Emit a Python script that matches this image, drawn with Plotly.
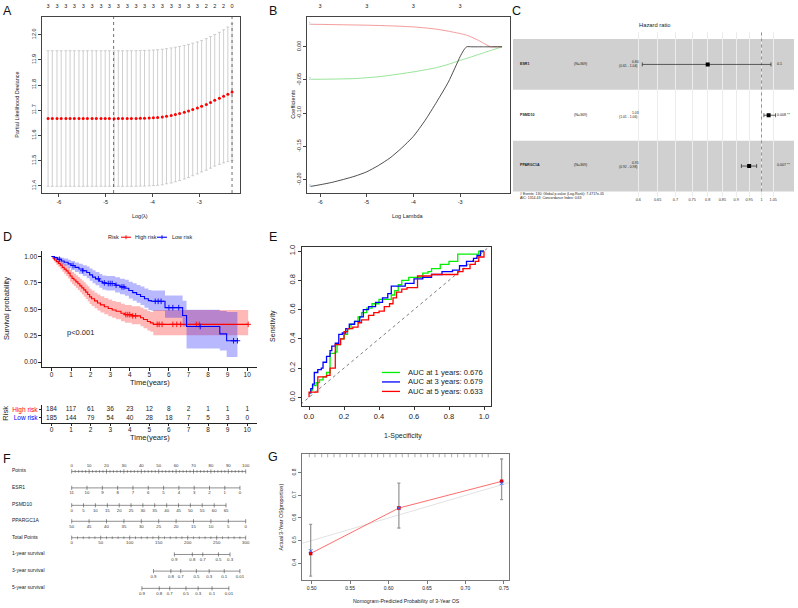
import plotly.graph_objects as go

# ======================= DATA =======================
# ---- A: cross-validation curve ----
cv_loglambda = [-6.23, -6.14, -6.04, -5.95, -5.85, -5.76, -5.67, -5.57, -5.48, -5.39,
                -5.29, -5.20, -5.10, -5.01, -4.92, -4.82, -4.73, -4.64, -4.54, -4.45,
                -4.35, -4.26, -4.17, -4.07, -3.98, -3.89, -3.79, -3.70, -3.60, -3.51,
                -3.42, -3.32, -3.23, -3.14, -3.04, -2.95, -2.85, -2.76, -2.67, -2.57,
                -2.48, -2.39, -2.30]
cv_mean = [11.667, 11.667, 11.667, 11.667, 11.667, 11.667, 11.667, 11.667, 11.667, 11.667,
           11.667, 11.667, 11.667, 11.667, 11.667, 11.666, 11.667, 11.667, 11.667, 11.667,
           11.667, 11.668, 11.668, 11.669, 11.670, 11.671, 11.673, 11.676, 11.679, 11.683,
           11.687, 11.692, 11.697, 11.703, 11.709, 11.716, 11.723, 11.731, 11.739, 11.747,
           11.755, 11.763, 11.772]
cv_upper = [11.936, 11.936, 11.936, 11.936, 11.936, 11.936, 11.936, 11.936, 11.936, 11.936,
            11.936, 11.936, 11.936, 11.936, 11.936, 11.936, 11.936, 11.936, 11.936, 11.936,
            11.936, 11.937, 11.937, 11.938, 11.939, 11.940, 11.942, 11.944, 11.947, 11.950,
            11.953, 11.957, 11.961, 11.966, 11.971, 11.977, 11.984, 11.992, 12.000, 12.009,
            12.019, 12.030, 12.043]
cv_lower = [11.398, 11.398, 11.398, 11.398, 11.398, 11.398, 11.398, 11.398, 11.398, 11.398,
            11.398, 11.398, 11.398, 11.398, 11.398, 11.398, 11.398, 11.398, 11.398, 11.398,
            11.398, 11.399, 11.399, 11.400, 11.401, 11.402, 11.404, 11.408, 11.411, 11.416,
            11.421, 11.427, 11.433, 11.440, 11.447, 11.455, 11.462, 11.470, 11.478, 11.485,
            11.491, 11.496, 11.501]
cv_nonzero_labels = [3, 3, 3, 3, 3, 3, 3, 3, 3, 3, 3, 3, 3, 3, 3, 3, 3, 3, 2, 2, 2, 0]
lambda_min_log = -4.83
lambda_1se_log = -2.30

# ---- B: coefficient paths ----
path_loglambda = [-6.2, -6.0, -5.75, -5.5, -5.25, -5.0, -4.75, -4.5, -4.25, -4.0, -3.75, -3.5,
                  -3.25, -3.0, -2.93, -2.86, -2.75, -2.6, -2.5, -2.4, -2.35, -2.25, -2.1]
coef_pink = [0.0340, 0.0338, 0.0335, 0.0332, 0.0329, 0.0326, 0.0321, 0.0316, 0.0309, 0.0300,
             0.0285, 0.0265, 0.0235, 0.0200, 0.0188, 0.0175, 0.0145, 0.0095, 0.0055, 0.0018,
             0.0, 0.0, 0.0]
coef_green = [-0.0490, -0.0489, -0.0487, -0.0484, -0.0479, -0.0466, -0.0452, -0.0430, -0.0405,
              -0.0378, -0.0348, -0.0313, -0.0265, -0.0205, -0.0190, -0.0175, -0.0150, -0.0115,
              -0.0092, -0.0068, -0.0057, -0.0035, 0.0]
coef_black = [-0.2105, -0.2080, -0.2045, -0.2000, -0.1950, -0.1885, -0.1790, -0.1675, -0.1525,
              -0.1350, -0.1110, -0.0830, -0.0530, -0.0150, -0.0060, 0.0, 0.0, 0.0, 0.0, 0.0,
              0.0, 0.0, 0.0]
path_df_ticks = [-6, -5, -4, -3]
path_df_labels = [3, 3, 3, 3]

# ---- C: forest plot ----
forest_genes = ["ESR1", "PSMD10", "PPARGC1A"]
forest_n = [369, 369, 369]
forest_hr = [0.80, 1.03, 0.95]
forest_lo = [0.61, 1.01, 0.92]
forest_hi = [1.04, 1.06, 0.98]
forest_p = ["0.1", "0.008 **", "0.007 **"]
forest_ticks = [0.6, 0.65, 0.7, 0.75, 0.8, 0.85, 0.9, 0.95, 1.0, 1.05]
forest_ticktext = ["0.6", "0.65", "0.7", "0.75", "0.8", "0.85", "0.9", "0.95", "1", "1.05"]
forest_footer = ["# Events: 130; Global p-value (Log-Rank): 7.4717e-05",
                 "AIC: 1314.43; Concordance Index: 0.63"]

# ---- D: Kaplan-Meier ----
hr_t = [0.00, 0.08, 0.15, 0.25, 0.35, 0.45, 0.55, 0.65, 0.75, 0.85, 0.95, 1.05, 1.15, 1.25,
        1.35, 1.45, 1.55, 1.65, 1.75, 1.85, 1.95, 2.05, 2.20, 2.35, 2.50, 2.70, 2.90, 3.10,
        3.30, 3.55, 3.75, 4.10, 4.55, 4.70, 4.90, 5.05, 5.20, 10.05]
hr_s = [1.000, 0.984, 0.967, 0.951, 0.935, 0.918, 0.897, 0.880, 0.864, 0.842, 0.815, 0.793,
        0.777, 0.760, 0.742, 0.722, 0.703, 0.684, 0.663, 0.640, 0.618, 0.600, 0.580, 0.560,
        0.542, 0.525, 0.508, 0.494, 0.482, 0.463, 0.450, 0.438, 0.420, 0.404, 0.385, 0.372,
        0.358, 0.358]
hr_lo = [1.000, 0.966, 0.942, 0.920, 0.900, 0.879, 0.855, 0.835, 0.816, 0.792, 0.762, 0.738,
         0.720, 0.702, 0.682, 0.661, 0.641, 0.620, 0.598, 0.574, 0.551, 0.532, 0.511, 0.490,
         0.471, 0.453, 0.435, 0.420, 0.407, 0.387, 0.373, 0.360, 0.340, 0.322, 0.301, 0.287,
         0.256, 0.256]
hr_hi = [1.000, 1.000, 0.993, 0.982, 0.971, 0.959, 0.943, 0.929, 0.915, 0.896, 0.872, 0.852,
         0.838, 0.823, 0.807, 0.789, 0.772, 0.755, 0.736, 0.715, 0.694, 0.677, 0.658, 0.640,
         0.623, 0.608, 0.592, 0.580, 0.570, 0.552, 0.541, 0.530, 0.514, 0.500, 0.484, 0.474,
         0.494, 0.494]
hr_censor = [3.8, 3.9, 4.0, 4.15, 4.3, 5.4, 5.5, 5.65, 6.2, 6.4, 6.6, 7.4, 7.55, 10.05]

lr_t = [0.00, 0.15, 0.30, 0.50, 0.65, 0.85, 1.00, 1.20, 1.40, 1.60, 1.80, 1.95, 2.10, 2.25,
        2.45, 2.60, 2.80, 3.25, 3.50, 3.75, 3.95, 4.15, 4.35, 4.55, 4.75, 4.95, 5.10, 5.80,
        6.70, 6.90, 8.60, 8.95, 9.50]
lr_s = [1.000, 0.989, 0.973, 0.957, 0.946, 0.930, 0.914, 0.897, 0.881, 0.865, 0.848, 0.826,
        0.805, 0.788, 0.766, 0.750, 0.744, 0.728, 0.712, 0.700, 0.678, 0.658, 0.641, 0.622,
        0.600, 0.582, 0.576, 0.516, 0.442, 0.337, 0.268, 0.203, 0.203]
lr_lo = [1.000, 0.974, 0.950, 0.927, 0.913, 0.892, 0.873, 0.853, 0.834, 0.815, 0.795, 0.770,
         0.746, 0.727, 0.703, 0.685, 0.678, 0.660, 0.642, 0.628, 0.603, 0.581, 0.562, 0.540,
         0.514, 0.494, 0.487, 0.420, 0.337, 0.130, 0.110, 0.050, 0.050]
lr_hi = [1.000, 1.000, 0.996, 0.988, 0.980, 0.969, 0.957, 0.943, 0.930, 0.918, 0.904, 0.886,
         0.869, 0.854, 0.835, 0.821, 0.816, 0.803, 0.790, 0.780, 0.762, 0.746, 0.731, 0.715,
         0.698, 0.684, 0.679, 0.631, 0.581, 0.495, 0.485, 0.475, 0.475]
lr_censor = [0.4, 1.1, 1.6, 2.4, 2.7, 2.9, 3.0, 3.1, 3.3, 3.6, 3.7, 5.3, 5.45, 5.6, 6.0, 6.2,
             6.5, 7.6, 9.3, 9.5]

risk_times = [0, 1, 2, 3, 4, 5, 6, 7, 8, 9, 10]
risk_high = [184, 117, 61, 36, 23, 12, 8, 2, 1, 1, 1]
risk_low = [185, 144, 79, 54, 40, 28, 18, 7, 5, 3, 0]

# ---- E: time-dependent ROC ----
roc1_fpr = [0.00, 0.01, 0.02, 0.04, 0.06, 0.08, 0.10, 0.11, 0.12, 0.14, 0.15, 0.16, 0.18,
            0.20, 0.22, 0.24, 0.26, 0.28, 0.30, 0.33, 0.36, 0.40, 0.44, 0.47, 0.49, 0.51,
            0.53, 0.57, 0.62, 0.65, 0.68, 0.70, 0.75, 0.80, 0.84, 0.85, 0.95, 0.97, 1.00]
roc1_tpr = [0.03, 0.05, 0.08, 0.10, 0.12, 0.14, 0.17, 0.17, 0.30, 0.30, 0.31, 0.36, 0.40,
            0.43, 0.47, 0.50, 0.52, 0.55, 0.58, 0.61, 0.64, 0.67, 0.67, 0.70, 0.73, 0.77,
            0.80, 0.82, 0.82, 0.85, 0.86, 0.88, 0.91, 0.93, 0.93, 0.98, 0.98, 1.00, 1.00]
roc3_fpr = [0.00, 0.01, 0.02, 0.03, 0.05, 0.07, 0.08, 0.10, 0.12, 0.13, 0.15, 0.17, 0.19,
            0.21, 0.23, 0.26, 0.29, 0.31, 0.34, 0.38, 0.42, 0.45, 0.47, 0.50, 0.55, 0.60,
            0.65, 0.70, 0.76, 0.82, 0.86, 0.90, 0.94, 0.96, 0.98, 1.00]
roc3_tpr = [0.03, 0.06, 0.09, 0.17, 0.19, 0.20, 0.24, 0.28, 0.32, 0.35, 0.37, 0.43, 0.44,
            0.47, 0.50, 0.52, 0.55, 0.60, 0.62, 0.65, 0.68, 0.71, 0.76, 0.76, 0.78, 0.81,
            0.82, 0.84, 0.86, 0.87, 0.90, 0.93, 0.95, 0.97, 1.00, 1.00]
roc5_fpr = [0.00, 0.00, 0.04, 0.05, 0.10, 0.12, 0.15, 0.15, 0.17, 0.18, 0.20, 0.22, 0.25,
            0.28, 0.30, 0.34, 0.37, 0.40, 0.43, 0.46, 0.48, 0.50, 0.53, 0.56, 0.62, 0.62,
            0.70, 0.80, 0.85, 0.88, 0.92, 0.95, 0.97, 1.00]
roc5_tpr = [0.00, 0.035, 0.035, 0.14, 0.15, 0.20, 0.20, 0.36, 0.36, 0.40, 0.45, 0.47, 0.48,
            0.51, 0.53, 0.56, 0.58, 0.59, 0.62, 0.64, 0.68, 0.72, 0.74, 0.75, 0.75, 0.83,
            0.84, 0.84, 0.86, 0.88, 0.91, 0.93, 0.96, 1.00]
roc_years = [1, 3, 5]
roc_auc = [0.676, 0.679, 0.633]

# ---- F: nomogram ----
nomo_points_ticks = [0, 10, 20, 30, 40, 50, 60, 70, 80, 90, 100]
esr1_vals = [11, 10, 9, 8, 7, 6, 5, 4, 3, 2, 1, 0]
esr1_pts = [0, 8.8, 17.6, 26.4, 35.2, 44.0, 52.8, 61.6, 70.4, 79.2, 88.0, 96.7]
psmd10_vals = [0, 5, 10, 15, 20, 25, 30, 35, 40, 45, 50, 55, 60, 65]
psmd10_pts = [0, 6.8, 13.6, 20.5, 27.3, 34.1, 40.9, 47.7, 54.6, 61.4, 68.2, 75.0, 81.9, 88.7]
ppargc1a_vals = [50, 45, 40, 35, 30, 25, 20, 15, 10, 5, 0]
ppargc1a_pts = [0, 10, 20, 30, 40, 50, 60, 70, 80, 90, 100]
total_points_ticks = [0, 50, 100, 150, 200, 250, 300]
surv1_probs = ["0.9", "0.8", "0.7", "0.5", "0.3"]
surv1_total = [177, 208, 226, 253, 273]
surv3_probs = ["0.9", "0.8", "0.7", "0.5", "0.3", "0.1", "0.01"]
surv3_total = [141, 171, 188, 215, 237, 263, 290]
surv5_probs = ["0.9", "0.8", "0.7", "0.5", "0.3", "0.1", "0.01"]
surv5_total = [121, 151, 169, 197, 218, 242, 271]

# ---- G: calibration ----
cal_pred = [0.4987, 0.6134, 0.747]
cal_obs = [0.443, 0.644, 0.762]
cal_obs_corr = [0.454, 0.644, 0.754]
cal_lo = [0.343, 0.5555, 0.681]
cal_hi = [0.572, 0.754, 0.861]
cal_rug = [0.4969, 0.5043, 0.5130, 0.5208, 0.5290, 0.5368, 0.5455, 0.5528, 0.5615, 0.5693,
           0.5780, 0.5858, 0.5936, 0.6018, 0.6096, 0.6178, 0.6256, 0.6343, 0.6421, 0.6508,
           0.6581, 0.6659, 0.6733, 0.6820, 0.6898, 0.6980, 0.7058, 0.7137, 0.7218, 0.7296]

# ======================= LAYOUT HELPERS =======================
W, H = 798, 608
FONT = "Liberation Sans, Arial, sans-serif"


def xd(a, b):
    return [a / W, b / W]


def yd(top, bottom):
    return [1 - bottom / H, 1 - top / H]


def PX(x):
    return x / W


def PY(y):
    return 1 - y / H


fig = go.Figure()
ann = []
shapes = []


def text(x, y, s, size, color="#222", xanchor="center", angle=0, yanchor="middle", bold=False):
    if bold:
        s = "<b>" + s + "</b>"
    ann.append(dict(x=PX(x), y=PY(y), xref="paper", yref="paper", text=s, showarrow=False,
                    xanchor=xanchor, yanchor=yanchor, textangle=angle,
                    font=dict(size=size, color=color, family=FONT)))


def box_axis(dom, rng, tickvals, ticktext, size, angle=0, color="#444", mirror=True):
    return dict(domain=dom, range=rng, tickvals=tickvals, ticktext=ticktext, tickangle=angle,
                showline=True, mirror=mirror, linecolor=color, linewidth=0.8,
                ticks="outside", ticklen=3, tickwidth=0.6, tickcolor=color,
                showgrid=False, zeroline=False,
                tickfont=dict(size=size, color="#222", family=FONT))


def top_label_axis(dom, rng, overlay, anchor, vals, labels, size=5.5):
    return dict(domain=dom, range=rng, overlaying=overlay, anchor=anchor, side="top",
                tickvals=vals, ticktext=[str(v) for v in labels], ticks="", showline=False,
                showgrid=False, zeroline=False, ticklabelstandoff=7,
                tickfont=dict(size=size, color="#222", family=FONT))


# ======================= PANEL A =======================
err_up = [u - m for u, m in zip(cv_upper, cv_mean)]
err_dn = [m - l for m, l in zip(cv_mean, cv_lower)]
fig.add_trace(go.Scatter(x=cv_loglambda, y=cv_mean, mode="markers", xaxis="x", yaxis="y",
                         marker=dict(color="red", size=3),
                         error_y=dict(type="data", symmetric=False, array=err_up,
                                      arrayminus=err_dn, color="#c4c4c4", thickness=0.8, width=1.5)))
for v in (lambda_min_log, lambda_1se_log):
    fig.add_trace(go.Scatter(x=[v, v], y=[11.3, 12.1], mode="lines", xaxis="x", yaxis="y",
                             line=dict(color="#333", width=0.7, dash="dot")))
# top axis (number of non-zero coefficients)
fig.add_trace(go.Scatter(x=cv_loglambda[::2], y=cv_mean[::2], mode="markers", xaxis="x9",
                         yaxis="y", marker=dict(opacity=0), hoverinfo="skip"))
xa_A = box_axis(xd(42, 240), [-6.36, -2.13], [-6, -5, -4, -3], ["-6", "-5", "-4", "-3"], 5.5)
ya_A = box_axis(yd(15, 192), [11.37, 12.07], [11.4, 11.5, 11.6, 11.7, 11.8, 11.9, 12.0],
                ["11.4", "11.5", "11.6", "11.7", "11.8", "11.9", "12.0"], 5.5, angle=-90)
ya_A["anchor"] = "x"
xa_A["anchor"] = "y"
xa_A9 = top_label_axis(xd(42, 240), [-6.36, -2.13], "x", "y", cv_loglambda[::2], cv_nonzero_labels)
text(140, 215, "Log(λ)", 5.5)
text(17, 103, "Partial Likelihood Deviance", 5.5, angle=-90)

# ======================= PANEL B =======================
for ys, col in ((coef_pink, "#f08080"), (coef_green, "#7ddc7d"), (coef_black, "#222222")):
    fig.add_trace(go.Scatter(x=path_loglambda, y=ys, mode="lines", xaxis="x2", yaxis="y2",
                             line=dict(color=col, width=0.8, shape="spline", smoothing=0.6)))
fig.add_trace(go.Scatter(x=[path_loglambda[0]] * 3, y=[coef_pink[0], coef_green[0], coef_black[0]],
                         text=["1", "2", "3"], mode="text", textposition="middle left",
                         cliponaxis=False, xaxis="x2", yaxis="y2",
                         textfont=dict(size=3, color="#888", family=FONT)))
fig.add_trace(go.Scatter(x=path_df_ticks, y=[0, 0, 0, 0], mode="markers", xaxis="x10",
                         yaxis="y2", marker=dict(opacity=0), hoverinfo="skip"))
xa_B = box_axis(xd(307, 510), [-6.28, -1.93], [-6, -5, -4, -3], ["-6", "-5", "-4", "-3"], 5.5)
ya_B = box_axis(yd(15, 192), [-0.221, 0.045], [-0.20, -0.15, -0.10, -0.05, 0.00],
                ["-0.20", "-0.15", "-0.10", "-0.05", "0.00"], 5.5, angle=-90)
xa_B["anchor"] = "y2"
ya_B["anchor"] = "x2"
xa_B10 = top_label_axis(xd(307, 510), [-6.28, -1.93], "x2", "y2", path_df_ticks, path_df_labels)
text(408, 215, "Log Lambda", 5.5)
text(293, 103, "Coefficients", 5.5, angle=-90)

# ======================= PANEL C =======================
rows_y = [2.5, 1.5, 0.5]
shapes.append(dict(type="rect", xref="paper", yref="y3", x0=PX(513), x1=PX(794), y0=2, y1=3,
                   fillcolor="#d0d0d0", line=dict(width=0), layer="below"))
shapes.append(dict(type="rect", xref="paper", yref="y3", x0=PX(513), x1=PX(794), y0=0, y1=1,
                   fillcolor="#d0d0d0", line=dict(width=0), layer="below"))
fig.add_trace(go.Scatter(x=[1, 1], y=[0, 3.14], mode="lines", xaxis="x3", yaxis="y3",
                         line=dict(color="#555", width=0.6, dash="dot")))
fig.add_trace(go.Scatter(x=forest_hr, y=rows_y, mode="markers", xaxis="x3", yaxis="y3",
                         marker=dict(symbol="square", color="black", size=4),
                         error_x=dict(type="data", symmetric=False,
                                      array=[h - m for h, m in zip(forest_hi, forest_hr)],
                                      arrayminus=[m - l for m, l in zip(forest_hr, forest_lo)],
                                      color="#222", thickness=0.7, width=2)))
xa_C = dict(domain=xd(513, 794), type="log", range=[-0.4475, 0.0585], tickvals=forest_ticks,
            ticktext=forest_ticktext, showgrid=True, gridcolor="#ececec", gridwidth=0.6,
            showline=False, zeroline=False, ticks="", anchor="y3",
            tickfont=dict(size=3.8, color="#333", family=FONT))
ya_C = dict(domain=yd(30, 195.2), range=[-0.1, 3.14], visible=False, anchor="x3")
text(655, 23, "Hazard ratio", 5.8)
row_px = [62.5, 113.5, 164]
for i, g in enumerate(forest_genes):
    text(518, row_px[i], g, 3.6, xanchor="left", bold=True)
    text(580, row_px[i], "(N=%d)" % forest_n[i], 3.6)
    text(635, row_px[i] - 2.2, "%.2f" % forest_hr[i], 3.4)
    text(628, row_px[i] + 1.8, "(%.2f - %.2f)" % (forest_lo[i], forest_hi[i]), 3.4)
    text(775, row_px[i], forest_p[i], 3.6, xanchor="left")
text(518, 192.5, forest_footer[0], 3.5, xanchor="left")
text(518, 196.8, forest_footer[1], 3.5, xanchor="left")

# ======================= PANEL D =======================
RED_F = "rgba(255,0,0,0.28)"
BLUE_F = "rgba(0,0,255,0.28)"
for t, lo, hi, fc in ((hr_t, hr_lo, hr_hi, RED_F), (lr_t, lr_lo, lr_hi, BLUE_F)):
    fig.add_trace(go.Scatter(x=t, y=lo, mode="lines", xaxis="x4", yaxis="y4",
                             line=dict(width=0, shape="hv"), hoverinfo="skip"))
    fig.add_trace(go.Scatter(x=t, y=hi, mode="lines", xaxis="x4", yaxis="y4", fill="tonexty",
                             fillcolor=fc, line=dict(width=0, shape="hv"), hoverinfo="skip"))


def step_at(ts, ss, t):
    val = ss[0]
    for ti, si in zip(ts, ss):
        if ti <= t:
            val = si
    return val


for t, s, cens, col in ((hr_t, hr_s, hr_censor, "#ff0000"), (lr_t, lr_s, lr_censor, "#0000ff")):
    fig.add_trace(go.Scatter(x=t, y=s, mode="lines", xaxis="x4", yaxis="y4",
                             line=dict(color=col, width=1.1, shape="hv")))
    fig.add_trace(go.Scatter(x=cens, y=[step_at(t, s, c) for c in cens], mode="markers",
                             xaxis="x4", yaxis="y4",
                             marker=dict(symbol="cross-thin", size=4, line=dict(width=0.9, color=col))))
xa_D = dict(domain=xd(41.7, 257), range=[-0.5, 10.5], tickvals=risk_times,
            ticktext=[str(v) for v in risk_times], showline=True, linecolor="#222", linewidth=0.8,
            ticks="outside", ticklen=2.5, tickwidth=0.7, tickcolor="#222", showgrid=False,
            zeroline=False, anchor="y4", ticklabelstandoff=-2,
            tickfont=dict(size=6.5, color="#222", family=FONT))
ya_D = dict(domain=yd(250, 366.7), range=[-0.05, 1.05], tickvals=[0, 0.25, 0.5, 0.75, 1.0],
            ticktext=["0.00", "0.25", "0.50", "0.75", "1.00"], showline=True, linecolor="#222",
            linewidth=0.8, ticks="outside", ticklen=2.5, tickwidth=0.7, tickcolor="#222",
            showgrid=False, zeroline=False, anchor="x4",
            tickfont=dict(size=6.5, color="#222", family=FONT))
text(150, 382, "Time(years)", 7.5)
text(7, 308, "Survival probability", 7.5, angle=-90)
text(65, 332, "p<0.001", 7.5, xanchor="left")
# legend
text(113, 236, "Risk", 5.5)
for x0, x1, col, lab, tx in ((121, 131, "#ff0000", "High risk", 133),
                             (157, 167, "#0000ff", "Low risk", 170)):
    shapes.append(dict(type="line", xref="paper", yref="paper", x0=PX(x0), x1=PX(x1),
                       y0=PY(236), y1=PY(236), line=dict(color=col, width=1.1)))
    shapes.append(dict(type="line", xref="paper", yref="paper", x0=PX((x0 + x1) / 2),
                       x1=PX((x0 + x1) / 2), y0=PY(234), y1=PY(238), line=dict(color=col, width=0.9)))
    text(tx, 236, lab, 5.5, xanchor="left")

# risk table
fig.add_trace(go.Scatter(x=risk_times, y=[2] * len(risk_times), text=[str(v) for v in risk_high],
                         mode="text", xaxis="x5", yaxis="y5", cliponaxis=False,
                         textfont=dict(size=6.5, color="#222", family=FONT)))
fig.add_trace(go.Scatter(x=risk_times, y=[1] * len(risk_times), text=[str(v) for v in risk_low],
                         mode="text", xaxis="x5", yaxis="y5", cliponaxis=False,
                         textfont=dict(size=6.5, color="#222", family=FONT)))
xa_Dt = dict(xa_D)
xa_Dt.update(domain=xd(41.7, 257), anchor="y5")
ya_Dt = dict(domain=yd(404, 422.3), range=[0.4, 2.6], tickvals=[1, 2],
             ticktext=["<span style='color:#0000ff'>Low risk</span>",
                       "<span style='color:#ff0000'>High risk</span>"],
             showline=True, linecolor="#222", linewidth=0.8, ticks="outside", ticklen=2,
             tickwidth=0.7, tickcolor="#222", showgrid=False, zeroline=False, anchor="x5",
             tickfont=dict(size=6.5, family=FONT))
text(150, 437, "Time(years)", 7.5)
text(6, 413, "Risk", 7.5, angle=-90)

# ======================= PANEL E =======================
fig.add_trace(go.Scatter(x=[-0.1, 1.1], y=[-0.1, 1.1], mode="lines", xaxis="x6", yaxis="y6",
                         line=dict(color="#444", width=0.7, dash="dot")))
roc_cols = ["#00ee00", "#0000ff", "#ff0000"]
for fx, ty, col in ((roc1_fpr, roc1_tpr, roc_cols[0]), (roc3_fpr, roc3_tpr, roc_cols[1]),
                    (roc5_fpr, roc5_tpr, roc_cols[2])):
    fig.add_trace(go.Scatter(x=fx, y=ty, mode="lines", xaxis="x6", yaxis="y6",
                             line=dict(color=col, width=1.3, shape="hv")))
e_ticks = [0, 0.2, 0.4, 0.6, 0.8, 1.0]
e_text = ["0.0", "0.2", "0.4", "0.6", "0.8", "1.0"]
xa_E = box_axis(xd(301.7, 491), [-0.042, 1.04], e_ticks, e_text, 7.5, color="#333")
ya_E = box_axis(yd(245.7, 405), [-0.057, 1.029], e_ticks, e_text, 7.5, angle=-90, color="#333")
xa_E["anchor"] = "y6"
ya_E["anchor"] = "x6"
text(403, 435.7, "1-Specificity", 7)
text(273, 325, "Sensitivity", 7, angle=-90)
leg_rows = [371.7, 381.2, 390.7]
for i in range(3):
    shapes.append(dict(type="line", xref="paper", yref="paper", x0=PX(382), x1=PX(400),
                       y0=PY(leg_rows[i]), y1=PY(leg_rows[i]),
                       line=dict(color=roc_cols[i], width=1.3)))
    text(405.5, leg_rows[i], "AUC at %d years: %.3f" % (roc_years[i], roc_auc[i]), 7.6,
         xanchor="left")

# ======================= PANEL F =======================
F_ROWS = dict(points=471, esr1=487.5, psmd10=505, ppargc1a=521, total=537.5,
              s1=554.3, s3=571, s5=588.3)
F_LAB_OFF = 5.5
LINE_C = "#444"


def nomo_axis(pts, labels, row, above=False, minor=None):
    fig.add_trace(go.Scatter(x=[min(pts), max(pts)], y=[row, row], mode="lines",
                             xaxis="x7", yaxis="y7", line=dict(color=LINE_C, width=0.6)))
    fig.add_trace(go.Scatter(x=pts, y=[row] * len(pts), mode="markers", xaxis="x7", yaxis="y7",
                             marker=dict(symbol="line-ns", size=3, line=dict(width=0.6, color=LINE_C))))
    if minor:
        fig.add_trace(go.Scatter(x=minor, y=[row] * len(minor), mode="markers", xaxis="x7",
                                 yaxis="y7", marker=dict(symbol="line-ns", size=2,
                                                         line=dict(width=0.5, color=LINE_C))))
    off = -F_LAB_OFF if above else F_LAB_OFF
    fig.add_trace(go.Scatter(x=pts, y=[row + off] * len(pts), text=labels, mode="text",
                             xaxis="x7", yaxis="y7", cliponaxis=False,
                             textfont=dict(size=4.3, color="#333", family=FONT)))


nomo_axis(nomo_points_ticks, [str(v) for v in nomo_points_ticks], F_ROWS["points"], above=True,
          minor=[v for v in range(0, 101, 2) if v % 10])
nomo_axis(esr1_pts, [str(v) for v in esr1_vals], F_ROWS["esr1"])
nomo_axis(psmd10_pts, [str(v) for v in psmd10_vals], F_ROWS["psmd10"])
nomo_axis(ppargc1a_pts, [str(v) for v in ppargc1a_vals], F_ROWS["ppargc1a"])
nomo_axis([v / 3 for v in total_points_ticks], [str(v) for v in total_points_ticks], F_ROWS["total"],
          minor=[v / 3 for v in range(0, 301, 10) if v % 50])
nomo_axis([v / 3 for v in surv1_total], surv1_probs, F_ROWS["s1"])
nomo_axis([v / 3 for v in surv3_total], surv3_probs, F_ROWS["s3"])
nomo_axis([v / 3 for v in surv5_total], surv5_probs, F_ROWS["s5"])
xa_F = dict(domain=xd(0, 260), range=[-41.21, 108.22], visible=False, anchor="y7")
ya_F = dict(domain=yd(455, 600), range=[600, 455], visible=False, anchor="x7")
for key, lab in (("points", "Points"), ("esr1", "ESR1"), ("psmd10", "PSMD10"),
                 ("ppargc1a", "PPARGC1A"), ("total", "Total Points"), ("s1", "1-year survival"),
                 ("s3", "3-year survival"), ("s5", "5-year survival")):
    text(10, F_ROWS[key] - 1, lab, 5, xanchor="left")

# ======================= PANEL G =======================
fig.add_trace(go.Scatter(x=[0.45, 0.8], y=[0.45, 0.8], mode="lines", xaxis="x8", yaxis="y8",
                         line=dict(color="#e2e2e2", width=1)))
fig.add_trace(go.Scatter(x=cal_rug, y=[0.878] * len(cal_rug), mode="markers", xaxis="x8",
                         yaxis="y8", marker=dict(symbol="line-ns", size=3,
                                                 line=dict(width=0.6, color="#777"))))
fig.add_trace(go.Scatter(x=cal_pred, y=cal_obs, mode="lines+markers", xaxis="x8", yaxis="y8",
                         line=dict(color="rgba(255,60,60,0.75)", width=1),
                         marker=dict(symbol="square", size=3.5, color="#e00000"),
                         error_y=dict(type="data", symmetric=False,
                                      array=[h - o for h, o in zip(cal_hi, cal_obs)],
                                      arrayminus=[o - l for o, l in zip(cal_obs, cal_lo)],
                                      color="#9a9a9a", thickness=1.3, width=1.5)))
fig.add_trace(go.Scatter(x=cal_pred, y=cal_obs_corr, mode="markers", xaxis="x8", yaxis="y8",
                         marker=dict(symbol="x-thin", size=3.5, line=dict(width=1, color="#4060ff"))))
xa_G = box_axis(xd(302.3, 509.3), [0.4878, 0.757], [0.50, 0.55, 0.60, 0.65, 0.70, 0.75],
                ["0.50", "0.55", "0.60", "0.65", "0.70", "0.75"], 5, color="#777")
ya_G = box_axis(yd(453.3, 580), [0.325, 0.884], [0.4, 0.5, 0.6, 0.7, 0.8],
                ["0.4", "0.5", "0.6", "0.7", "0.8"], 5, angle=-90, color="#777")
xa_G["anchor"] = "y8"
ya_G["anchor"] = "x8"
text(406, 601, "Nomogram-Predicted Probability of 3-Year OS", 5.2)
text(281.5, 516.7, "Actual 3-Year OS(proportion)", 5.2, angle=-90)

# ======================= PANEL LETTERS =======================
for lab, x, y in (("A", 7.5, 9), ("B", 272.5, 9), ("C", 516.5, 9), ("D", 7, 236),
                  ("E", 272.5, 236), ("F", 7, 459), ("G", 273, 457)):
    text(x, y, lab, 12.5, color="#111")

fig.update_layout(
    width=W, height=H, margin=dict(l=0, r=0, t=0, b=0), showlegend=False,
    paper_bgcolor="white", plot_bgcolor="white", font=dict(family=FONT),
    xaxis=xa_A, yaxis=ya_A, xaxis2=xa_B, yaxis2=ya_B, xaxis3=xa_C, yaxis3=ya_C,
    xaxis4=xa_D, yaxis4=ya_D, xaxis5=xa_Dt, yaxis5=ya_Dt, xaxis6=xa_E, yaxis6=ya_E,
    xaxis7=xa_F, yaxis7=ya_F, xaxis8=xa_G, yaxis8=ya_G, xaxis9=xa_A9, xaxis10=xa_B10,
    annotations=ann, shapes=shapes,
)
fig.write_html("out.html", config={"displayModeBar": False},
               post_script="document.body.style.margin='0px';document.body.style.padding='0px';")
